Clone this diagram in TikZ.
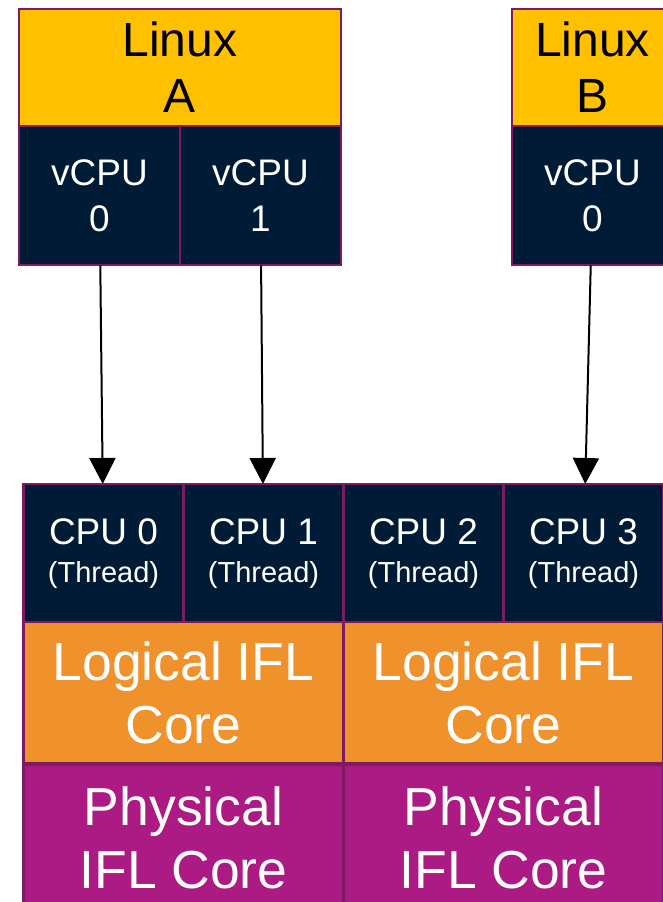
\documentclass[tikz,border=0pt]{standalone}
\usepackage{fontspec}
\setmainfont{Liberation Sans}
\usetikzlibrary{positioning, arrows.meta}
\definecolor{linuxcolor}{RGB}{255,192,0}
\definecolor{cpucolor}{RGB}{0,27,53}
\definecolor{logiccolor}{RGB}{240,146,43}
\definecolor{physcolor}{RGB}{172,26,131}
\definecolor{edgecolor}{RGB}{125,26,100}

\tikzset{
    box/.style={rectangle, draw=edgecolor, line width=2.5pt, outer sep=0pt, inner sep=0pt, align=center},
    linuxbox/.style={box, fill=linuxcolor, text=black, minimum width=322pt, minimum height=117pt, font=\fontsize{48}{56}\selectfont},
    vcpubox/.style={box, fill=cpucolor, text=white, minimum width=161pt, minimum height=139pt, font=\fontsize{37}{46}\selectfont},
    cpubox/.style={box, fill=cpucolor, text=white, minimum width=160pt, minimum height=139pt, font=\fontsize{37}{40}\selectfont},
    corebox/.style={box, text=white, minimum width=320pt, minimum height=141pt, font=\fontsize{53.5}{63}\selectfont},
    maparrow/.style={-{Triangle[width=26pt,length=26pt]}, line width=2pt, black}
}

\begin{document}
\begin{tikzpicture}[x=1pt, y=-1pt]
    \useasboundingbox (0,0) rectangle (662,902);

    % guests
    \node[linuxbox] (linuxA) at (180,67.5) {Linux\\A};
    \node[vcpubox, anchor=north west] (vcpuA0) at (linuxA.south west) {vCPU\\0};
    \node[vcpubox, right=0pt of vcpuA0] (vcpuA1) {vCPU\\1};
    \node[linuxbox, minimum width=161pt] (linuxB) at (592.5,67.5) {Linux\\B};
    \node[vcpubox, below=0pt of linuxB] (vcpuB0) {vCPU\\0};

    % host threads
    \node[cpubox] (cpu0) at (103.5,553.5) {CPU 0\\[-2pt]{\fontsize{29}{34}\selectfont(Thread)}};
    \node[cpubox, right=0pt of cpu0] (cpu1) {CPU 1\\[-2pt]{\fontsize{29}{34}\selectfont(Thread)}};
    \node[cpubox, right=0pt of cpu1] (cpu2) {CPU 2\\[-2pt]{\fontsize{29}{34}\selectfont(Thread)}};
    \node[cpubox, right=0pt of cpu2] (cpu3) {CPU 3\\[-2pt]{\fontsize{29}{34}\selectfont(Thread)}};

    % cores
    \node[corebox, fill=logiccolor, anchor=north west] (logic1) at ([yshift=1pt]cpu0.south west) {Logical IFL\\Core};
    \node[corebox, fill=logiccolor, right=0pt of logic1] (logic2) {Logical IFL\\Core};
    \node[corebox, fill=physcolor, minimum height=146pt, anchor=north west] (phys1) at ([yshift=-2pt]logic1.south west) {Physical\\IFL Core};
    \node[corebox, fill=physcolor, minimum height=146pt, right=0pt of phys1] (phys2) {Physical\\IFL Core};

    % mapping
    \draw[maparrow] (vcpuA0) -- (cpu0);
    \draw[maparrow] (vcpuA1) -- (cpu1);
    \draw[maparrow] (vcpuB0) -- (cpu3);
\end{tikzpicture}
\end{document}
